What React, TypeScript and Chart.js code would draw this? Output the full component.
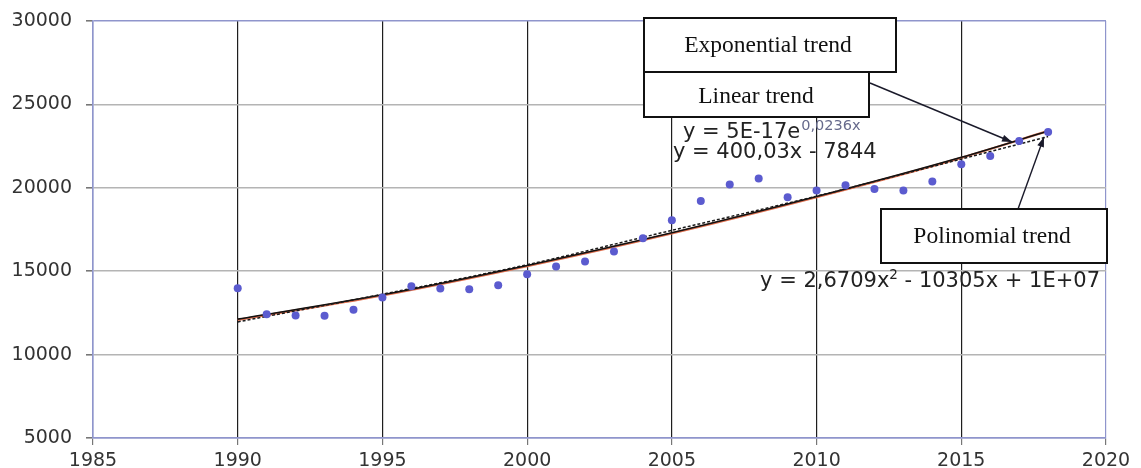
import React, { useEffect, useRef } from "react";
import { Chart, registerables } from "chart.js";

Chart.register(...registerables);

// ---- data ----
const years = [
  1990, 1991, 1992, 1993, 1994, 1995, 1996, 1997, 1998, 1999,
  2000, 2001, 2002, 2003, 2004, 2005, 2006, 2007, 2008, 2009,
  2010, 2011, 2012, 2013, 2014, 2015, 2016, 2017, 2018,
];
const values = [
  13980, 12425, 12345, 12330, 12684, 13423, 14102, 13963, 13923, 14162,
  14822, 15281, 15580, 16179, 16979, 18057, 19215, 20194, 20553, 19435,
  19834, 20154, 19934, 19834, 20373, 21412, 21911, 22810, 23349,
];
const trendYears = [1990, 1995, 2000, 2005, 2010, 2015, 2018];
const expTrend = [12127, 13583, 15340, 17300, 19473, 21830, 23400];
const polyTrend = [12080, 13550, 15305, 17265, 19440, 21795, 23410];
const linTrend = [11960, 13620, 15390, 17450, 19500, 21720, 23070];

const xTicks = [1985, 1990, 1995, 2000, 2005, 2010, 2015, 2020];
const yTicks = [5000, 10000, 15000, 20000, 25000, 30000];

const expLabel = "Exponential trend";
const linLabel = "Linear trend";
const polyLabel = "Polinomial trend";
const expEqMain = "y = 5E-17e";
const expEqSup = "0,0236x";
const linEq = "y = 400,03x - 7844";
const polyEqA = "y = 2,6709x";
const polyEqSup = "2";
const polyEqB = " - 10305x + 1E+07";

const LAVENDER = "#8f95cc";

function drawArrow(ctx: CanvasRenderingContext2D, x1: number, y1: number, x2: number, y2: number) {
  ctx.beginPath();
  ctx.moveTo(x1, y1);
  ctx.lineTo(x2, y2);
  ctx.stroke();
  const a = Math.atan2(y2 - y1, x2 - x1);
  const L = 10;
  const W = 3.5;
  const bx = x2 - L * Math.cos(a);
  const by = y2 - L * Math.sin(a);
  ctx.beginPath();
  ctx.moveTo(x2, y2);
  ctx.lineTo(bx + W * Math.sin(a), by - W * Math.cos(a));
  ctx.lineTo(bx - W * Math.sin(a), by + W * Math.cos(a));
  ctx.closePath();
  ctx.fill();
}

function box(ctx: CanvasRenderingContext2D, x1: number, y1: number, x2: number, y2: number, text: string, tx: number, ty: number) {
  ctx.fillStyle = "#ffffff";
  ctx.fillRect(x1, y1, x2 - x1, y2 - y1);
  ctx.strokeStyle = "#111";
  ctx.lineWidth = 2;
  ctx.strokeRect(x1, y1, x2 - x1, y2 - y1);
  ctx.fillStyle = "#111";
  ctx.font = "23.5px 'Liberation Serif'";
  ctx.textAlign = "center";
  ctx.textBaseline = "alphabetic";
  ctx.fillText(text, tx, ty);
}

const annotationPlugin = {
  id: "annotations",
  afterDraw(chart: any) {
    const ctx: CanvasRenderingContext2D = chart.ctx;
    ctx.save();
    // arrows
    ctx.strokeStyle = "#1a1a2a";
    ctx.fillStyle = "#1a1a2a";
    ctx.lineWidth = 1.4;
    drawArrow(ctx, 870, 83, 1012, 142);
    drawArrow(ctx, 1018, 209, 1044, 137);
    // boxes
    box(ctx, 644, 18, 896, 72, expLabel, 768, 51.5);
    box(ctx, 644, 72, 869, 117, linLabel, 756, 103);
    box(ctx, 881, 209, 1107, 263, polyLabel, 992, 242.5);

    // equations
    ctx.textAlign = "left";
    ctx.textBaseline = "alphabetic";
    ctx.fillStyle = "#222";
    ctx.font = "21px 'DejaVu Sans'";
    ctx.fillText(expEqMain, 683, 138);
    const w1 = ctx.measureText(expEqMain).width;
    ctx.font = "14.5px 'DejaVu Sans'";
    ctx.fillStyle = "#666a8c";
    ctx.fillText(expEqSup, 683 + w1 + 1, 130);

    ctx.fillStyle = "#222";
    ctx.font = "21px 'DejaVu Sans'";
    ctx.fillText(linEq, 673, 158);

    // polynomial equation, right aligned at 1100
    ctx.font = "21px 'DejaVu Sans'";
    const wa = ctx.measureText(polyEqA).width;
    const wb = ctx.measureText(polyEqB).width;
    ctx.font = "13.5px 'DejaVu Sans'";
    const ws = ctx.measureText(polyEqSup).width;
    const start = 1100 - (wa + ws + wb);
    ctx.font = "21px 'DejaVu Sans'";
    ctx.fillText(polyEqA, start, 287);
    ctx.font = "13.5px 'DejaVu Sans'";
    ctx.fillText(polyEqSup, start + wa, 279);
    ctx.font = "21px 'DejaVu Sans'";
    ctx.fillText(polyEqB, start + wa + ws, 287);
    ctx.restore();
  },
};

export default function App() {
  const ref = useRef<HTMLCanvasElement>(null);

  useEffect(() => {
    document.body.style.margin = "0";
    const canvas = ref.current;
    if (!canvas) return;
    const pts = years.map((y, i) => ({ x: y, y: values[i] }));
    const toXY = (arr: number[]) => trendYears.map((y, i) => ({ x: y, y: arr[i] }));

    const chart = new Chart(canvas, {
      type: "scatter",
      data: {
        datasets: [
          {
            label: "data",
            data: pts,
            pointRadius: 4,
            pointBackgroundColor: "#5b5bcf",
            pointBorderColor: "#5b5bcf",
            pointBorderWidth: 0,
            showLine: false,
          },
          {
            label: "linear",
            data: toXY(linTrend),
            showLine: true,
            borderColor: "#1a1a1a",
            borderWidth: 1.5,
            borderDash: [3, 2],
            pointRadius: 0,
            cubicInterpolationMode: "monotone",
          },
          {
            label: "exponential",
            data: toXY(expTrend),
            showLine: true,
            borderColor: "#111",
            borderWidth: 1.6,
            pointRadius: 0,
            cubicInterpolationMode: "monotone",
          },
          {
            label: "polynomial",
            data: toXY(polyTrend),
            showLine: true,
            borderColor: "#e0704f",
            borderWidth: 2.2,
            pointRadius: 0,
            cubicInterpolationMode: "monotone",
          },
        ],
      } as any,
      options: {
        responsive: false,
        animation: false,
        devicePixelRatio: 1,
        layout: { padding: { left: 0, right: 35, top: 21, bottom: 0 } },
        plugins: {
          legend: { display: false },
          tooltip: { enabled: false },
        },
        scales: {
          x: {
            type: "linear",
            min: 1985,
            max: 2020,
            afterBuildTicks: (scale: any) => {
              scale.ticks = xTicks.map((v) => ({ value: v }));
            },
            afterFit: (scale: any) => {
              scale.height = 30;
              scale.paddingLeft = 0;
              scale.paddingRight = 0;
            },
            ticks: {
              font: { family: "'DejaVu Sans'", size: 19 },
              color: "#333",
              padding: 5,
              maxRotation: 0,
              autoSkip: false,
              callback: (v: any) => String(v),
            },
            grid: {
              color: (c: any) =>
                c.tick && (c.tick.value === 1985 || c.tick.value === 2020) ? LAVENDER : "#1e1e1e",
              lineWidth: 1.2,
              tickLength: 7,
              tickColor: "#777",
              drawTicks: true,
            },
            border: { display: true, color: LAVENDER, width: 1.6 },
          },
          y: {
            type: "linear",
            min: 5000,
            max: 30000,
            afterBuildTicks: (scale: any) => {
              scale.ticks = yTicks.map((v) => ({ value: v }));
            },
            afterFit: (scale: any) => {
              scale.width = 93;
              scale.paddingTop = 0;
              scale.paddingBottom = 0;
            },
            ticks: {
              font: { family: "'DejaVu Sans'", size: 19 },
              color: "#333",
              padding: 14,
              autoSkip: false,
              callback: (v: any) => String(v),
            },
            grid: {
              color: (c: any) =>
                c.tick && (c.tick.value === 30000 || c.tick.value === 5000) ? LAVENDER : "#b4b4b4",
              lineWidth: 1.6,
              tickLength: 7,
              tickColor: "#777",
              drawTicks: true,
            },
            border: { display: true, color: LAVENDER, width: 1.6 },
          },
        },
      } as any,
      plugins: [annotationPlugin],
    });
    return () => chart.destroy();
  }, []);

  return (
    <div style={{ width: 1141, height: 468 }}>
      <canvas ref={ref} width={1141} height={468} style={{ display: "block", width: 1141, height: 468 }} />
    </div>
  );
}
